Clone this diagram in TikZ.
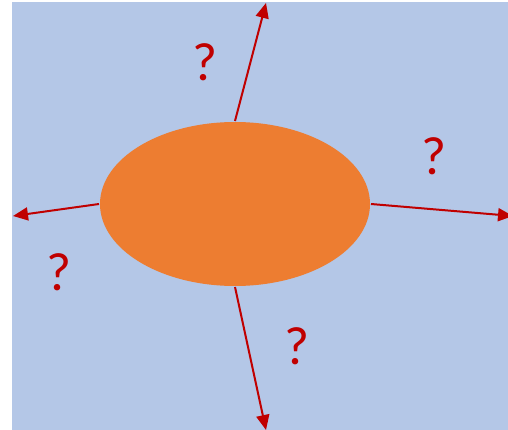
\documentclass[tikz,border=0pt]{standalone}
\usepackage{fontspec}
\setsansfont{Carlito}
\usetikzlibrary{arrows.meta,shapes.geometric}
\definecolor{fondo}{HTML}{B4C7E7}
\definecolor{naranja}{HTML}{ED7D31}
\definecolor{rojo}{HTML}{C00000}

\begin{document}
\begin{tikzpicture}[x=1pt,y=-1pt,line width=2pt,>={Triangle[length=15pt,width=13pt]},
  preg/.style={text=rojo,font=\sffamily\fontsize{54}{54}\selectfont,inner sep=0pt}]
  \useasboundingbox (0,0) rectangle (508,430);
  % fondo
  \fill[fondo] (12,2) rectangle (508,430);
  % objeto central
  \node[ellipse,fill=naranja,minimum width=270pt,minimum height=164pt,inner sep=0pt] (obj) at (235,204) {};
  \coordinate (arriba) at (266,3); \coordinate (abajo) at (266,430);
  \coordinate (izq) at (13,216); \coordinate (der) at (513,216);
  \draw[->,rojo] (obj.north)--(arriba); \draw[->,rojo] (obj.south)--(abajo);
  \draw[->,rojo] (obj.west)--(izq); \draw[->,rojo] (obj.east)--(der);
  % interrogantes
  \node[preg] (p1) at (205,62){?}; \node[preg] (p2) at (434,156){?};
  \node[preg] (p3) at (59,272){?}; \node[preg] (p4) at (297,346){?};
\end{tikzpicture}
\end{document}
